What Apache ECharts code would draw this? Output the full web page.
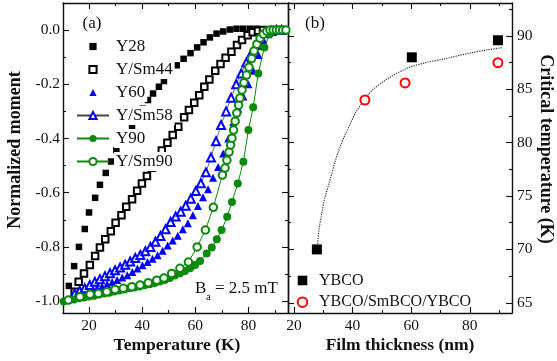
<!DOCTYPE html>
<html>
<head>
<meta charset="utf-8">
<script src="https://cdn.jsdelivr.net/npm/echarts@6/dist/echarts.min.js"></script>
<style>
  html, body { margin: 0; padding: 0; background: #fff; }
  #chart { width: 557px; height: 361px; }
</style>
</head>
<body>
<div id="chart"></div>
<script>
// ---- panel (a): temperature (K) vs normalized moment, [T, m] pairs
const y28 = [
  [12.4, -0.944], [14.4, -0.871], [16.2, -0.800], [18.4, -0.734], [20.0, -0.673], [22.3, -0.619],
  [24.1, -0.571], [26.3, -0.527], [28.3, -0.485], [30.3, -0.443], [32.3, -0.410], [34.3, -0.380],
  [36.2, -0.357], [38.2, -0.322], [40.2, -0.290], [42.2, -0.258], [44.1, -0.234], [46.3, -0.209],
  [48.2, -0.188], [50.6, -0.160], [53.0, -0.130], [55.6, -0.106], [58.2, -0.085], [60.7, -0.064],
  [63.1, -0.045], [65.5, -0.027], [68.0, -0.013], [70.5, -0.005], [73.0, 0.002], [75.5, 0.005],
  [78.0, 0.005], [80.5, 0.005], [83.0, 0.005]
];
const ySm44 = [
  [14.6, -0.966], [16.1, -0.929], [18.1, -0.898], [20.3, -0.867], [22.3, -0.834], [24.1, -0.802],
  [26.1, -0.772], [28.2, -0.742], [30.0, -0.711], [32.2, -0.683], [34.0, -0.652], [36.2, -0.624],
  [38.1, -0.593], [39.9, -0.566], [41.8, -0.538], [43.7, -0.508], [45.6, -0.476], [47.4, -0.444],
  [49.5, -0.416], [51.5, -0.387], [53.6, -0.357], [55.8, -0.322], [57.6, -0.295], [59.6, -0.268],
  [61.5, -0.240], [63.4, -0.209], [65.3, -0.182], [67.5, -0.150], [69.5, -0.125], [71.4, -0.102],
  [73.6, -0.080], [75.7, -0.055], [77.6, -0.037], [79.7, -0.019], [81.6, -0.008], [83.6, -0.002],
  [85.5, 0.0]
];
const y60 = [
  [13.5, -0.986], [15.4, -0.980], [17.3, -0.974], [19.2, -0.968], [21.1, -0.961], [23.0, -0.953],
  [24.9, -0.946], [26.8, -0.938], [28.7, -0.930], [30.6, -0.922], [32.5, -0.913], [34.4, -0.905],
  [36.3, -0.893], [38.2, -0.880], [40.1, -0.868], [42.0, -0.856], [43.9, -0.844], [45.8, -0.831],
  [47.7, -0.814], [49.6, -0.795], [51.5, -0.776], [53.4, -0.759], [55.3, -0.735], [57.2, -0.713],
  [59.1, -0.683], [61.0, -0.649], [62.9, -0.617], [64.8, -0.587], [66.7, -0.545], [68.6, -0.505],
  [70.5, -0.455], [72.4, -0.400], [74.3, -0.340], [76.2, -0.290], [78.1, -0.245], [80.0, -0.200],
  [81.9, -0.150], [83.8, -0.092], [85.7, -0.045], [87.6, -0.012], [89.5, 0.0], [91.4, 0.0], [93.3, 0.0]
];
const ySm58 = [
  [14.6, -0.972], [16.5, -0.962], [18.4, -0.953], [20.3, -0.941], [22.2, -0.929], [24.1, -0.919],
  [26.0, -0.908], [27.9, -0.897], [29.8, -0.886], [31.7, -0.876], [33.6, -0.866], [35.5, -0.854],
  [37.4, -0.841], [39.3, -0.830], [41.2, -0.816], [43.1, -0.800], [45.0, -0.781], [46.9, -0.760],
  [48.8, -0.735], [50.7, -0.708], [52.6, -0.688], [54.5, -0.670], [56.4, -0.648], [58.3, -0.622],
  [60.2, -0.594], [62.1, -0.565], [64.0, -0.525], [65.9, -0.470], [67.8, -0.410], [69.7, -0.350],
  [71.6, -0.300], [73.5, -0.250], [75.4, -0.200], [77.3, -0.160], [79.2, -0.120], [81.1, -0.085],
  [83.0, -0.055], [84.9, -0.030], [86.8, -0.012], [88.7, -0.003], [90.6, 0.0], [92.5, 0.0]
];
const y90 = [
  [10.5, -1.002], [12.4, -0.998], [14.3, -0.994], [16.2, -0.990], [18.1, -0.987], [20.0, -0.983],
  [21.9, -0.980], [23.8, -0.976], [25.7, -0.972], [27.6, -0.969], [29.5, -0.965], [31.4, -0.961],
  [33.3, -0.957], [35.2, -0.953], [37.1, -0.950], [39.0, -0.946], [40.9, -0.942], [42.8, -0.938],
  [44.7, -0.933], [46.6, -0.928], [48.5, -0.922], [50.4, -0.915], [52.3, -0.906], [54.2, -0.897],
  [56.1, -0.889], [58.0, -0.879], [59.9, -0.867], [61.8, -0.852], [64.3, -0.824], [66.2, -0.802],
  [68.1, -0.772], [69.9, -0.738], [72.0, -0.689], [73.8, -0.634], [76.0, -0.566], [78.1, -0.486],
  [80.0, -0.369], [81.8, -0.285], [83.7, -0.160], [86.0, -0.064], [88.0, -0.015], [90.0, 0.0],
  [92.0, 0.0], [94.0, 0.0]
];
const ySm90 = [
  [12.2, -0.996], [16.6, -0.984], [20.4, -0.975], [23.5, -0.972], [26.7, -0.966], [29.8, -0.957],
  [32.9, -0.953], [36.1, -0.947], [39.2, -0.941], [42.3, -0.932], [45.5, -0.923], [48.2, -0.915],
  [51.1, -0.898], [54.2, -0.879], [57.4, -0.856], [60.7, -0.800], [63.8, -0.738], [66.8, -0.654],
  [70.2, -0.535], [71.2, -0.509], [71.9, -0.480], [72.7, -0.450], [73.3, -0.424], [73.8, -0.399],
  [74.4, -0.369], [75.0, -0.336], [75.6, -0.306], [76.3, -0.277], [76.8, -0.251], [77.6, -0.221],
  [78.3, -0.194], [79.3, -0.166], [80.2, -0.137], [81.2, -0.105], [82.1, -0.077], [83.2, -0.052],
  [84.4, -0.030], [85.6, -0.015], [86.9, -0.004], [88.1, 0.0], [89.3, 0.0], [90.5, 0.0],
  [91.7, 0.0], [92.9, 0.0], [94.1, 0.0]
];

// ---- panel (b): film thickness (nm) vs critical temperature (K)
const ybcoThick = [27.8, 60.2, 89.6];
const ybcoTc = [70.0, 88.0, 89.6];
const triThick = [44.2, 57.9, 89.6];
const triTc = [84.0, 85.6, 87.5];
const fitThick = [28.0, 28.5, 29.5, 30.5, 32.3, 34.0, 35.7, 37.5, 39.1, 41.0, 43.7, 47.0, 52.0, 58.5, 65.0, 72.1, 80.0, 86.0, 91.0];
const fitTc = [70.3, 71.8, 73.4, 74.8, 76.5, 78.2, 79.6, 80.8, 81.7, 82.8, 83.9, 85.0, 86.0, 86.97, 87.5, 87.9, 88.4, 88.7, 88.9];

// ---- ticks
const tempMajor = [20, 40, 60, 80];
const tempMinor = [30, 50, 70, 90];
const momentMajor = [0, -0.2, -0.4, -0.6, -0.8, -1.0];
const momentMinor = [-0.1, -0.3, -0.5, -0.7, -0.9];
const thickMajor = [20, 40, 60, 80];
const thickMinor = [30, 50, 70, 90];
const tcMajor = [65, 70, 75, 80, 85, 90];
const tcMinor = [67.5, 72.5, 77.5, 82.5, 87.5, 92.5];

const FONT = 'Liberation Serif';
const INK = '#111';

// one axis = frame edge + inward ticks (+ labels on the main one)
function mkAxis(gridIndex, position, min, max, ticks, len, frame, label) {
  return {
    type: 'value', gridIndex, position, min, max,
    axisLine: { show: frame, onZero: false, lineStyle: { color: INK, width: 1.4 } },
    axisTick: { show: true, inside: true, length: len, customValues: ticks, lineStyle: { color: INK, width: 1.1 } },
    axisLabel: label
      ? Object.assign({ show: true, customValues: ticks, color: INK, fontFamily: FONT, fontSize: 15.5 }, label)
      : { show: false },
    splitLine: { show: false }
  };
}

// markers only: a line series with an invisible line, so the legend icon keeps its shape
function points(name, data, xi, symbol, size, color, border) {
  return {
    name, type: 'line', xAxisIndex: xi, yAxisIndex: xi, data,
    symbol, symbolSize: size,
    lineStyle: { opacity: 0, width: 0.5 },
    itemStyle: { color, borderWidth: border || 1 }
  };
}

const tMin = 10.2, tMax = 94.9, mMin = -1.044, mMax = 0.1;
const dMin = 17.95, dMax = 94.4, cMin = 64.04, cMax = 93.09;

const xAxes = [
  mkAxis(0, 'bottom', tMin, tMax, tempMajor, 6, true, { margin: 5 }),
  mkAxis(0, 'top', tMin, tMax, tempMajor, 6, true, null),
  mkAxis(0, 'bottom', tMin, tMax, tempMinor, 3, false, null),
  mkAxis(0, 'top', tMin, tMax, tempMinor, 3, false, null),
  mkAxis(1, 'bottom', dMin, dMax, thickMajor, 6, true, { margin: 5 }),
  mkAxis(1, 'top', dMin, dMax, thickMajor, 6, true, null),
  mkAxis(1, 'bottom', dMin, dMax, thickMinor, 3, false, null),
  mkAxis(1, 'top', dMin, dMax, thickMinor, 3, false, null)
];
const yAxes = [
  mkAxis(0, 'left', mMin, mMax, momentMajor, 6, true, { margin: 3, formatter: v => v.toFixed(1) }),
  mkAxis(0, 'right', mMin, mMax, momentMajor, 6, true, null),
  mkAxis(0, 'left', mMin, mMax, momentMinor, 3, false, null),
  mkAxis(0, 'right', mMin, mMax, momentMinor, 3, false, null),
  mkAxis(1, 'right', cMin, cMax, tcMajor, 6, true, { margin: 5 }),
  mkAxis(1, 'left', cMin, cMax, tcMajor, 6, true, null),
  mkAxis(1, 'right', cMin, cMax, tcMinor, 3, false, null),
  mkAxis(1, 'left', cMin, cMax, tcMinor, 3, false, null)
];

const green = '#0a8a0a';
const blue = '#0000ff';

const chart = echarts.init(document.getElementById('chart'), null, { renderer: 'canvas' });

const option = {
  animation: false,
  backgroundColor: '#fff',
  grid: [
    { left: 63, top: 3, width: 225, height: 310 },
    { left: 288, top: 3, width: 224, height: 310 }
  ],
  xAxis: xAxes,
  yAxis: yAxes,
  legend: [
    {
      orient: 'vertical', left: 76, top: 37, padding: 0, itemWidth: 32, itemHeight: 9, itemGap: 4,
      selectedMode: false,
      data: ['Y28', 'Y/Sm44', 'Y60', 'Y/Sm58', 'Y90', 'Y/Sm90'],
      textStyle: { fontFamily: FONT, fontSize: 17, color: INK, lineHeight: 17, backgroundColor: '#fff', padding: [1, 2] }
    },
    {
      orient: 'vertical', left: 290, top: 272, padding: 0, itemWidth: 23, itemHeight: 12, itemGap: 4.7,
      selectedMode: false,
      data: ['YBCO', 'YBCO/SmBCO/YBCO'],
      textStyle: { fontFamily: FONT, fontSize: 16, color: INK, lineHeight: 17 }
    }
  ],
  series: [
    points('Y28', y28, 0, 'rect', 6.5, '#000'),
    points('Y/Sm44', ySm44, 0, 'emptyRect', 6.5, '#000'),
    points('Y60', y60, 0, 'triangle', 8, blue),
    { name: 'Y/Sm58', type: 'line', xAxisIndex: 0, yAxisIndex: 0, data: ySm58,
      symbol: 'emptyTriangle', symbolSize: 8, lineStyle: { color: '#444', width: 0.8 },
      itemStyle: { color: blue, borderWidth: 1 } },
    { name: 'Y90', type: 'line', xAxisIndex: 0, yAxisIndex: 0, data: y90,
      symbol: 'circle', symbolSize: 8, lineStyle: { color: green, width: 1 },
      itemStyle: { color: green } },
    { name: 'Y/Sm90', type: 'line', xAxisIndex: 0, yAxisIndex: 0, data: ySm90,
      symbol: 'emptyCircle', symbolSize: 7.5, lineStyle: { color: green, width: 1 },
      itemStyle: { color: green, borderWidth: 1 } },
    { name: 'fit', type: 'line', xAxisIndex: 4, yAxisIndex: 4,
      data: fitThick.map((d, i) => [d, fitTc[i]]),
      smooth: 0.3, symbol: 'none', lineStyle: { type: 'dotted', color: '#333', width: 1.2 } },
    points('YBCO', ybcoThick.map((d, i) => [d, ybcoTc[i]]), 4, 'rect', 10, '#000'),
    points('YBCO/SmBCO/YBCO', triThick.map((d, i) => [d, triTc[i]]), 4, 'emptyCircle', 9, '#ff0000', 1.2)
  ],
  graphic: [
    { type: 'text', x: 92, y: 24, style: { text: '(a)', fontFamily: FONT, fontSize: 17, fill: INK, align: 'center', verticalAlign: 'middle' } },
    { type: 'text', x: 315, y: 24, style: { text: '(b)', fontFamily: FONT, fontSize: 17, fill: INK, align: 'center', verticalAlign: 'middle' } },
    { type: 'text', x: 195, y: 289, style: { text: 'B', fontFamily: FONT, fontSize: 17, fill: INK, align: 'left', verticalAlign: 'middle' } },
    { type: 'text', x: 206, y: 297, style: { text: 'a', fontFamily: FONT, fontSize: 11, fill: INK, align: 'left', verticalAlign: 'middle' } },
    { type: 'text', x: 215, y: 289, style: { text: '= 2.5 mT', fontFamily: FONT, fontSize: 17, fill: INK, align: 'left', verticalAlign: 'middle' } },
    { type: 'text', x: 15, y: 150, rotation: Math.PI / 2,
      style: { text: 'Normalized moment', fontFamily: FONT, fontWeight: 'bold', fontSize: 18, fill: INK, align: 'center', verticalAlign: 'middle' } },
    { type: 'text', x: 546, y: 149, rotation: -Math.PI / 2,
      style: { text: 'Critical temperature (K)', fontFamily: FONT, fontWeight: 'bold', fontSize: 18, fill: INK, align: 'center', verticalAlign: 'middle' } },
    { type: 'text', x: 177, y: 345, style: { text: 'Temperature (K)', fontFamily: FONT, fontWeight: 'bold', fontSize: 17.5, fill: INK, align: 'center', verticalAlign: 'middle' } },
    { type: 'text', x: 400, y: 345, style: { text: 'Film thickness (nm)', fontFamily: FONT, fontWeight: 'bold', fontSize: 17.5, fill: INK, align: 'center', verticalAlign: 'middle' } }
  ]
};

chart.setOption(option);
</script>
</body>
</html>
